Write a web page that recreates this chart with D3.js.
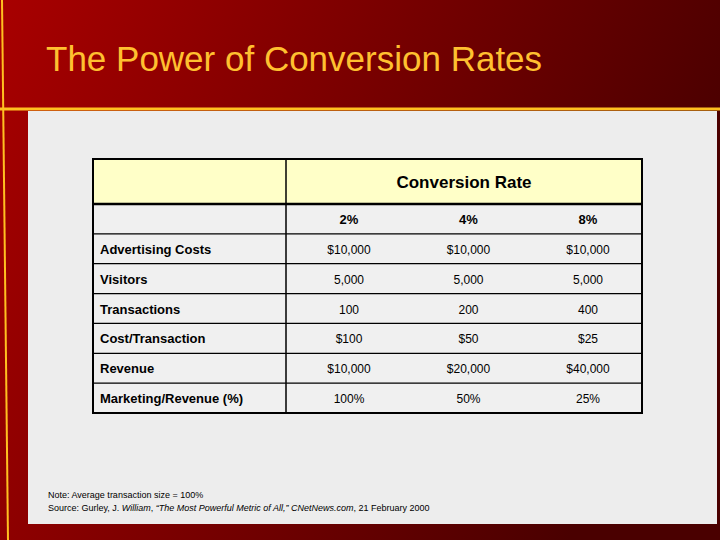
<!DOCTYPE html>
<html><head><meta charset="utf-8">
<script src="https://cdn.jsdelivr.net/npm/d3@7"></script>
<style>body{margin:0}svg{display:block}</style></head>
<body><svg id="c" width="720" height="540"></svg>
<script>
const rates = ["2%","4%","8%"];
const rowLabels = ["Advertising Costs","Visitors","Transactions","Cost/Transaction","Revenue","Marketing/Revenue (%)"];
const values2 = ["$10,000","5,000","100","$100","$10,000","100%"];
const values4 = ["$10,000","5,000","200","$50","$20,000","50%"];
const values8 = ["$10,000","5,000","400","$25","$40,000","25%"];
const cols = [values2, values4, values8];

const svg = d3.select("#c");
const defs = svg.append("defs");
const g1 = defs.append("linearGradient").attr("id","bg").attr("x1","0").attr("y1","0").attr("x2","1").attr("y2","0.3");
g1.append("stop").attr("offset","0").attr("stop-color","#a80000");
g1.append("stop").attr("offset","1").attr("stop-color","#4a0000");
svg.append("rect").attr("width",720).attr("height",540).attr("fill","url(#bg)");
svg.append("line").attr("x1",0).attr("y1",109).attr("x2",720).attr("y2",109).attr("stroke","#ffc020").attr("stroke-width",3);
svg.append("line").attr("x1",2).attr("y1",0).attr("x2",8).attr("y2",540).attr("stroke","#ffc020").attr("stroke-width",2);
svg.append("rect").attr("x",28).attr("y",111).attr("width",689).attr("height",413).attr("fill","#ededed");
svg.append("text").attr("x",46).attr("y",71).attr("fill","#ffc030")
  .attr("font-family","Liberation Sans, Arial").attr("font-size",35).text("The Power of Conversion Rates");

const L=93,R=642,D=286;
const y = d3.scaleBand().domain(["hdr","rates",...rowLabels]).range([159,413]);
// header taller
const rowsY = {hdr:[159,204]};
const yr = d3.scaleBand().domain(["rates",...rowLabels]).range([204,413]);
const x = d3.scalePoint().domain(rates).range([349,588]);
const font="Liberation Sans, Arial";
svg.append("rect").attr("x",L).attr("y",159).attr("width",R-L).attr("height",45).attr("fill","#ffffc8");
svg.append("rect").attr("x",L).attr("y",204).attr("width",R-L).attr("height",209).attr("fill","#f0f0f0");
const ln=(x1,y1,x2,y2,w)=>svg.append("line").attr("x1",x1).attr("y1",y1).attr("x2",x2).attr("y2",y2).attr("stroke","#000").attr("stroke-width",w);
yr.domain().forEach((d,i)=>{ if(i>0) ln(L,yr(d),R,yr(d),1.3); });
ln(L,204,R,204,2.5);
ln(D,159,D,413,1.5);
svg.append("rect").attr("x",L).attr("y",159).attr("width",R-L).attr("height",254).attr("fill","none").attr("stroke","#000").attr("stroke-width",2);
svg.append("text").attr("x",(D+R)/2).attr("y",188).attr("text-anchor","middle").attr("font-family",font).attr("font-weight","bold").attr("font-size",17).text("Conversion Rate");
rates.forEach(r=>svg.append("text").attr("x",x(r)).attr("y",yr("rates")+yr.bandwidth()/2+5).attr("text-anchor","middle").attr("font-family",font).attr("font-weight","bold").attr("font-size",13).text(r));
rowLabels.forEach((lab,i)=>{
  const cy=yr(lab)+yr.bandwidth()/2+5;
  svg.append("text").attr("x",100).attr("y",cy).attr("font-family",font).attr("font-weight","bold").attr("font-size",13).text(lab);
  rates.forEach((r,j)=>svg.append("text").attr("x",x(r)).attr("y",cy).attr("text-anchor","middle").attr("font-family",font).attr("font-size",12).text(cols[j][i]));
});
svg.append("text").attr("x",48).attr("y",498).attr("font-family",font).attr("font-size",9).text("Note: Average transaction size = 100%");
const s=svg.append("text").attr("x",48).attr("y",511).attr("font-family",font).attr("font-size",9);
s.append("tspan").text("Source: Gurley, J. ");
s.append("tspan").attr("font-style","italic").text("William");
s.append("tspan").text(", ");
s.append("tspan").attr("font-style","italic").text("\u201CThe Most Powerful Metric of All,\u201D CNetNews.com");
s.append("tspan").text(", 21 February 2000");
</script></body></html>
